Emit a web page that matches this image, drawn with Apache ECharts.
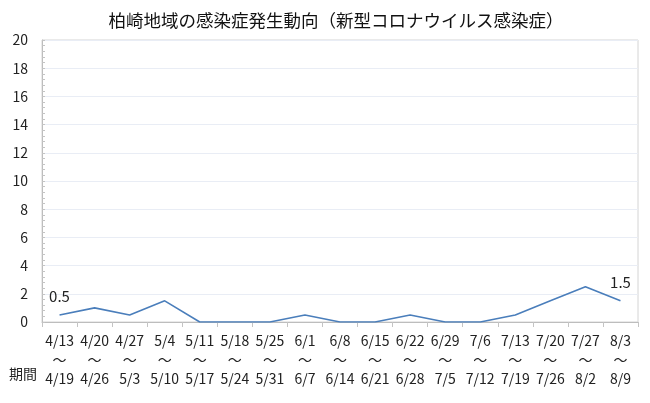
<!DOCTYPE html>
<html lang="ja">
  <head>
    <meta charset="UTF-8" />
    <title>柏崎地域の感染症発生動向</title>
    <style>
      body {
        margin: 0;
      }
      #chart {
        width: 650px;
        height: 403px;
      }
    </style>
    <script src="https://cdn.jsdelivr.net/npm/echarts@6/dist/echarts.min.js"></script>
  </head>
  <body>
    <div id="chart"></div>

    <script>
      const periodStart = ["4/13", "4/20", "4/27", "5/4", "5/11", "5/18", "5/25", "6/1", "6/8", "6/15", "6/22", "6/29", "7/6", "7/13", "7/20", "7/27", "8/3"];
      const periodEnd = ["4/19", "4/26", "5/3", "5/10", "5/17", "5/24", "5/31", "6/7", "6/14", "6/21", "6/28", "7/5", "7/12", "7/19", "7/26", "8/2", "8/9"];
      const values = [0.5, 1, 0.5, 1.5, 0, 0, 0, 0.5, 0, 0, 0.5, 0, 0, 0.5, 1.5, 2.5, 1.5];
      // 値ラベルは最初と最後だけ
      const labelled = [0, values.length - 1];

      const font = '"Noto Sans CJK JP", "Noto Sans", sans-serif';
      const categories = periodStart.map((s, i) => s + "\n～\n" + periodEnd[i]);

      var myChart = echarts.init(document.getElementById("chart"));
      myChart.setOption({
        animation: false,
        textStyle: { fontFamily: font },
        title: {
          text: "柏崎地域の感染症発生動向（新型コロナウイルス感染症）",
          left: 331,
          top: 7,
          textAlign: "center",
          textStyle: { fontSize: 17.5, fontWeight: "normal", color: "#111", fontFamily: font },
        },
        graphic: [
          {
            type: "text",
            left: 9,
            top: 367,
            style: { text: "期間", fontSize: 14, fill: "#222", fontFamily: font },
          },
        ],
        grid: {
          left: 42,
          right: 12,
          top: 40,
          bottom: 81,
          show: true,
          borderColor: "#d4d4d4",
          borderWidth: 1,
        },
        xAxis: {
          type: "category",
          data: categories,
          boundaryGap: true,
          axisLine: { lineStyle: { color: "#bdbdbd" } },
          axisTick: { show: true, length: 5, lineStyle: { color: "#c4c4c4" } },
          axisLabel: {
            interval: 0,
            margin: 9,
            fontSize: 14,
            lineHeight: 19,
            color: "#222",
            fontFamily: font,
          },
        },
        yAxis: {
          type: "value",
          min: 0,
          max: 20,
          interval: 2,
          axisLine: { show: true, lineStyle: { color: "#bdbdbd" } },
          axisTick: { show: true, inside: true, length: 3, lineStyle: { color: "#c4c4c4" } },
          minorTick: { show: true, splitNumber: 5, length: 3, lineStyle: { color: "#c4c4c4" } },
          axisLabel: { fontSize: 14, color: "#222", margin: 14, fontFamily: font },
          splitLine: { lineStyle: { color: "#e9edf5" } },
        },
        series: [
          {
            type: "line",
            data: values.map((v, i) => ({
              value: v,
              label: {
                show: labelled.includes(i),
                position: "top",
                distance: 11,
                fontSize: 15,
                color: "#222",
                fontFamily: font,
              },
            })),
            showSymbol: true,
            symbol: "circle",
            symbolSize: 0,
            lineStyle: { color: "#4a7ebb", width: 1.6 },
            itemStyle: { color: "#4a7ebb" },
          },
        ],
      });
    </script>
  </body>
</html>
